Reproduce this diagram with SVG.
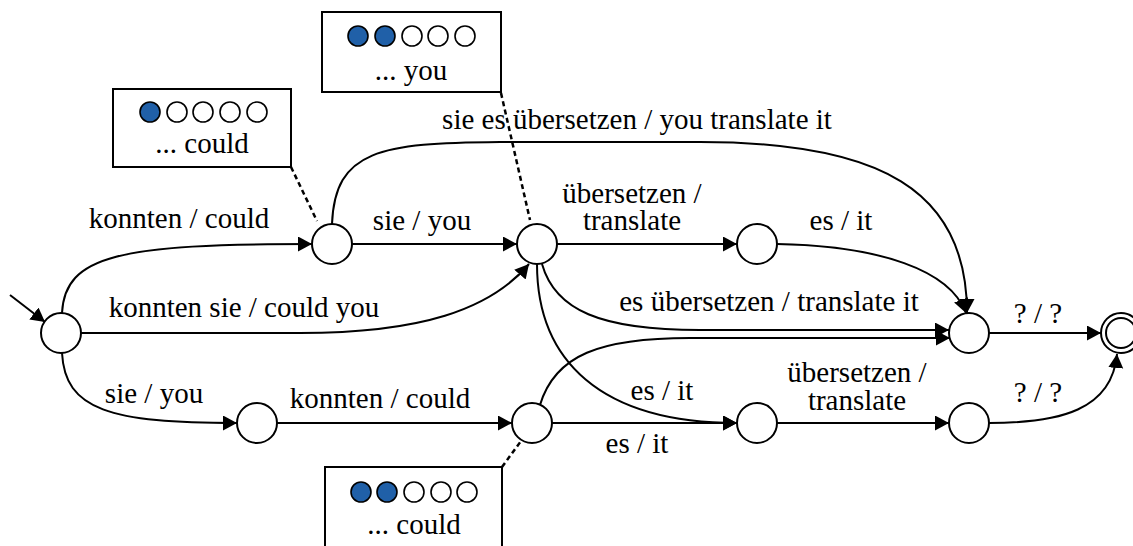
<svg xmlns="http://www.w3.org/2000/svg" width="1133" height="546" viewBox="0 0 1133 546">
  <style>
    text { font-family: "Liberation Serif", "Times New Roman", serif; font-size: 29px; fill: #000; text-anchor: middle; }
    .edge { fill: none; stroke: #000; stroke-width: 2; marker-end: url(#arr); }
    .dash { fill: none; stroke: #000; stroke-width: 2.5; stroke-dasharray: 5 3.5; }
    .state { fill: #fff; stroke: #000; stroke-width: 2; }
    .box { fill: #fff; stroke: #000; stroke-width: 2; }
    .dot { fill: #fff; stroke: #000; stroke-width: 1.6; }
    .dot.on { fill: #2060a8; }
  </style>
  <defs>
    <marker id="arr" markerUnits="userSpaceOnUse" markerWidth="16" markerHeight="16" refX="14" refY="7.5" orient="auto">
      <path d="M0,0 L14,7.5 L0,15 z" fill="#000"/>
    </marker>
  </defs>
  <rect width="1133" height="546" fill="#fff"/>

  <!-- transitions -->
  <g id="connectors">
    <line class="edge" x1="10" y1="295" x2="45" y2="322"/>
    <path class="edge" d="M62,313 C65,255 120,244 312,244"/>
    <path class="edge" d="M81,333 L300,333 C420,333 490,310 529,264"/>
    <path class="edge" d="M62,353 C65,410 110,423 237,423"/>
    <line class="edge" x1="352" y1="244" x2="517" y2="244"/>
    <path class="edge" d="M332,224 C335,150 380,143 500,142 L700,142 C880,142 967,190 967,313"/>
    <line class="edge" x1="557" y1="244" x2="737" y2="244"/>
    <path class="edge" d="M777,244 C880,246 950,270 966,313"/>
    <path class="edge" d="M542,264 C555,310 600,330 700,330 L949,330"/>
    <path class="edge" d="M537,264 C537,360 600,423 737,423"/>
    <line class="edge" x1="277" y1="423" x2="512" y2="423"/>
    <path class="edge" d="M540,405 C555,355 600,338 690,338 L950,338"/>
    <line class="edge" x1="552" y1="423" x2="737" y2="423"/>
    <line class="edge" x1="777" y1="423" x2="949" y2="423"/>
    <line class="edge" x1="989" y1="333" x2="1101" y2="333"/>
    <path class="edge" d="M989,423 C1060,423 1112,410 1117,354"/>
  </g>

  <!-- transition labels -->
  <g id="labels">
    <text x="179" y="228">konnten / could</text>
    <text x="422" y="230">sie / you</text>
    <text x="632" y="203">übersetzen /<tspan x="632" dy="27">translate</tspan></text>
    <text x="841" y="230">es / it</text>
    <text x="637" y="129">sie es übersetzen / you translate it</text>
    <text x="244" y="317">konnten sie / could you</text>
    <text x="769" y="311">es übersetzen / translate it</text>
    <text x="1038" y="323">? / ?</text>
    <text x="154" y="403">sie / you</text>
    <text x="380" y="408">konnten / could</text>
    <text x="662" y="400">es / it</text>
    <text x="637" y="453">es / it</text>
    <text x="857" y="382">übersetzen /<tspan x="857" dy="28">translate</tspan></text>
    <text x="1038" y="402">? / ?</text>
  </g>

  <!-- states -->
  <g id="s0"><circle class="state" cx="61" cy="333" r="20"/></g>
  <g id="s1"><circle class="state" cx="332" cy="244" r="20"/></g>
  <g id="s2"><circle class="state" cx="537" cy="244" r="20"/></g>
  <g id="s3"><circle class="state" cx="757" cy="244" r="20"/></g>
  <g id="s4"><circle class="state" cx="969" cy="333" r="20"/></g>
  <g id="s5"><circle class="state" cx="257" cy="423" r="20"/></g>
  <g id="s6"><circle class="state" cx="532" cy="423" r="20"/></g>
  <g id="s7"><circle class="state" cx="757" cy="423" r="20"/></g>
  <g id="s8"><circle class="state" cx="969" cy="423" r="20"/></g>
  <g id="sFinal">
    <circle class="state" cx="1121" cy="333" r="20"/>
    <circle class="state" cx="1121" cy="333" r="15"/>
  </g>

  <!-- coverage callouts -->
  <g id="note1">
    <line class="dash" x1="291" y1="167" x2="317" y2="221"/>
    <rect class="box" x="113" y="89" width="178" height="78"/>
    <circle class="dot on" cx="150" cy="112" r="10"/>
    <circle class="dot" cx="177" cy="112" r="10"/>
    <circle class="dot" cx="203" cy="112" r="10"/>
    <circle class="dot" cx="230" cy="112" r="10"/>
    <circle class="dot" cx="257" cy="112" r="10"/>
    <text x="202" y="153">... could</text>
  </g>
  <g id="note2">
    <line class="dash" x1="501" y1="93" x2="530" y2="220"/>
    <rect class="box" x="322" y="12" width="179" height="80"/>
    <circle class="dot on" cx="358" cy="36" r="10"/>
    <circle class="dot on" cx="385" cy="36" r="10"/>
    <circle class="dot" cx="412" cy="36" r="10"/>
    <circle class="dot" cx="438" cy="36" r="10"/>
    <circle class="dot" cx="465" cy="36" r="10"/>
    <text x="411" y="80">... you</text>
  </g>
  <g id="note3">
    <line class="dash" x1="502" y1="467" x2="521" y2="441"/>
    <rect class="box" x="325" y="467" width="177" height="100"/>
    <circle class="dot on" cx="361" cy="492" r="10"/>
    <circle class="dot on" cx="387" cy="492" r="10"/>
    <circle class="dot" cx="414" cy="492" r="10"/>
    <circle class="dot" cx="441" cy="492" r="10"/>
    <circle class="dot" cx="467" cy="492" r="10"/>
    <text x="414" y="534">... could</text>
  </g>
</svg>
